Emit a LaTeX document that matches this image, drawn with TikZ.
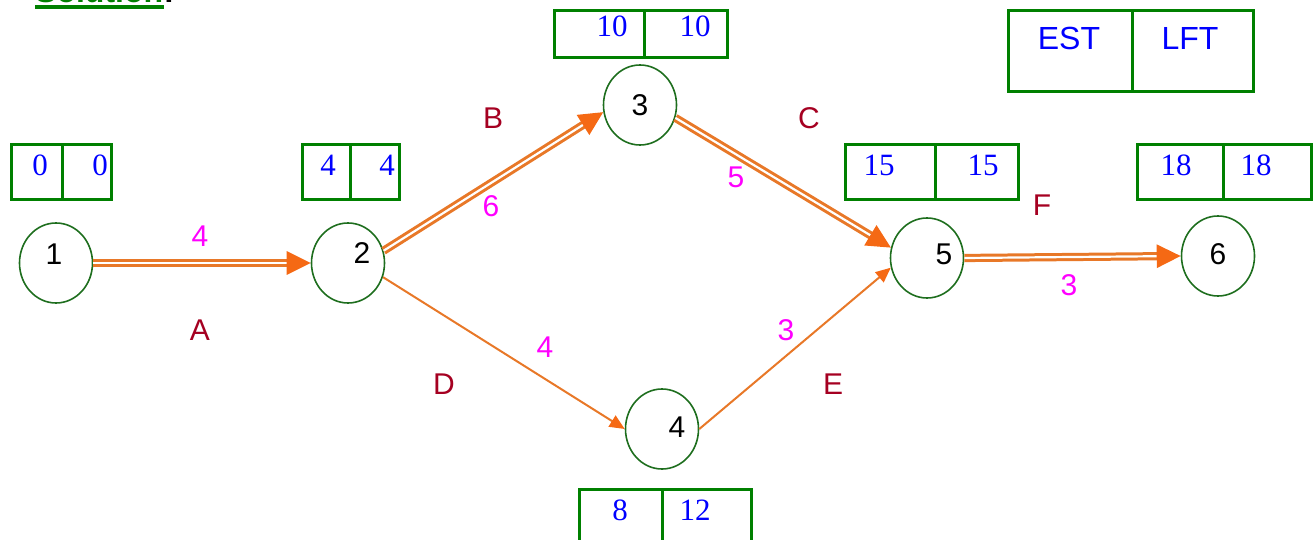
\documentclass[tikz,border=0pt]{standalone}
\usepackage{fontspec}
\setmainfont{Liberation Sans}
\newfontfamily\serifnum{Liberation Serif}
\usetikzlibrary{shapes.geometric,arrows.meta}
\definecolor{boxgreen}{RGB}{0,128,0}
\definecolor{circgreen}{RGB}{30,110,30}
\definecolor{lineor}{RGB}{232,120,40}
\definecolor{tipor}{RGB}{245,105,20}
\definecolor{actred}{RGB}{165,0,33}
\definecolor{durmag}{RGB}{255,0,255}
\definecolor{numblue}{RGB}{0,0,255}
\begin{document}
\begin{tikzpicture}[x=1pt,y=-1pt,
 event/.style={ellipse, draw=circgreen, line width=1.6pt, minimum width=73pt, minimum height=80pt, inner sep=0pt},
 evtext/.style={font=\fontsize{30}{36}\selectfont, text=black, inner sep=0pt},
 cell/.style={rectangle, draw=boxgreen, line width=3pt, anchor=north west, inner sep=0pt},
 num/.style={font=\serifnum\fontsize{31}{36}\selectfont, text=numblue, inner sep=0pt},
 hdr/.style={font=\fontsize{32}{38}\selectfont, text=numblue, inner sep=0pt},
 act/.style={font=\fontsize{30}{36}\selectfont, text=actred, inner sep=0pt},
 dur/.style={font=\fontsize{30}{36}\selectfont, text=durmag, inner sep=0pt},
 crit/.style={draw=lineor, line width=3pt, double=white, double distance=2.2pt, -{Triangle[length=24pt,width=23pt,color=tipor]}},
 plainarc/.style={draw=lineor, line width=2pt, -{Triangle[length=15pt,width=13pt,color=tipor]}},
]
\useasboundingbox (0,0) rectangle (1316,540);
\clip (0,0) rectangle (1316,540);

% title (cut off at top)
\node[anchor=base west, font=\bfseries\fontsize{32}{38}\selectfont, text=boxgreen, inner sep=0pt] (sol) at (35,3) {Solution};
\node[anchor=base west, font=\bfseries\fontsize{32}{38}\selectfont, text=black, inner sep=0pt] (colon) at (sol.base east) {:};
\fill[boxgreen] (35,5) rectangle (164,9);

% events
\node[event] (n1) at (56,263) {};
\node[event] (n2) at (348,263) {};
\node[event] (n3) at (640,105) {};
\node[event] (n4) at (662,429) {};
\node[event] (n5) at (927,258) {};
\node[event] (n6) at (1218,256) {};
\node[evtext] (t1) at (54,254) {1};
\node[evtext] (t2) at (362,253) {2};
\node[evtext] (t3) at (640,105) {3};
\node[evtext] (t4) at (677,427) {4};
\node[evtext] (t5) at (944,254) {5};
\node[evtext] (t6) at (1218,254) {6};

% activities
\draw[crit] (n1.east) -- (n2.west);
\draw[crit] (n2.19) -- (n3.191);
\draw[crit] (n3.-20) -- (n5.164);
\draw[crit] (n5.east) -- (n6.west);
\draw[plainarc] (n2.-22) -- (n4.west);
\draw[plainarc] (n4.east) -- (n5.195);

% activity labels
\node[act] (la) at (200,330) {A};
\node[act] (lb) at (493,118) {B};
\node[act] (lc) at (809,118) {C};
\node[act] (ld) at (444,384) {D};
\node[act] (le) at (833,384) {E};
\node[act] (lf) at (1042,205) {F};
\node[dur] (da) at (200,236) {4};
\node[dur] (db) at (491,206) {6};
\node[dur] (dc) at (736,177) {5};
\node[dur] (dd) at (545,347) {4};
\node[dur] (de) at (786,330) {3};
\node[dur] (df) at (1069,285) {3};

% time boxes
\node[cell, minimum width=51pt, minimum height=55pt] (b1l) at (10,143) {};
\node[cell, minimum width=49pt, minimum height=55pt] (b1r) at (61,143) {};
\node[num] at (40,165) {0};
\node[num] at (100,165) {0};

\node[cell, minimum width=48pt, minimum height=55pt] (b2l) at (301,143) {};
\node[cell, minimum width=49pt, minimum height=55pt] (b2r) at (349,143) {};
\node[num] at (328,165) {4};
\node[num] at (387,165) {4};

\node[cell, minimum width=90pt, minimum height=47pt] (b3l) at (553,9.5) {};
\node[cell, minimum width=83pt, minimum height=47pt] (b3r) at (643,9.5) {};
\node[num] at (612,26) {10};
\node[num] at (695,26) {10};

\node[cell, minimum width=90pt, minimum height=55pt] (b5l) at (844,143) {};
\node[cell, minimum width=83pt, minimum height=55pt] (b5r) at (934,143) {};
\node[num] at (879,165) {15};
\node[num] at (983,165) {15};

\node[cell, minimum width=86pt, minimum height=55pt] (b6l) at (1136,143) {};
\node[cell, minimum width=88pt, minimum height=55pt] (b6r) at (1222,143) {};
\node[num] at (1176,165) {18};
\node[num] at (1256,165) {18};

\node[cell, minimum width=83pt, minimum height=60pt] (b4l) at (578,488) {};
\node[cell, minimum width=89pt, minimum height=60pt] (b4r) at (661,488) {};
\node[num] at (620,510) {8};
\node[num] at (695,510) {12};

% legend
\node[cell, minimum width=124pt, minimum height=81pt] (kl) at (1007,9) {};
\node[cell, minimum width=121pt, minimum height=81pt] (kr) at (1131,9) {};
\node[hdr] at (1069,38) {EST};
\node[hdr] at (1190,38) {LFT};
\end{tikzpicture}
\end{document}
